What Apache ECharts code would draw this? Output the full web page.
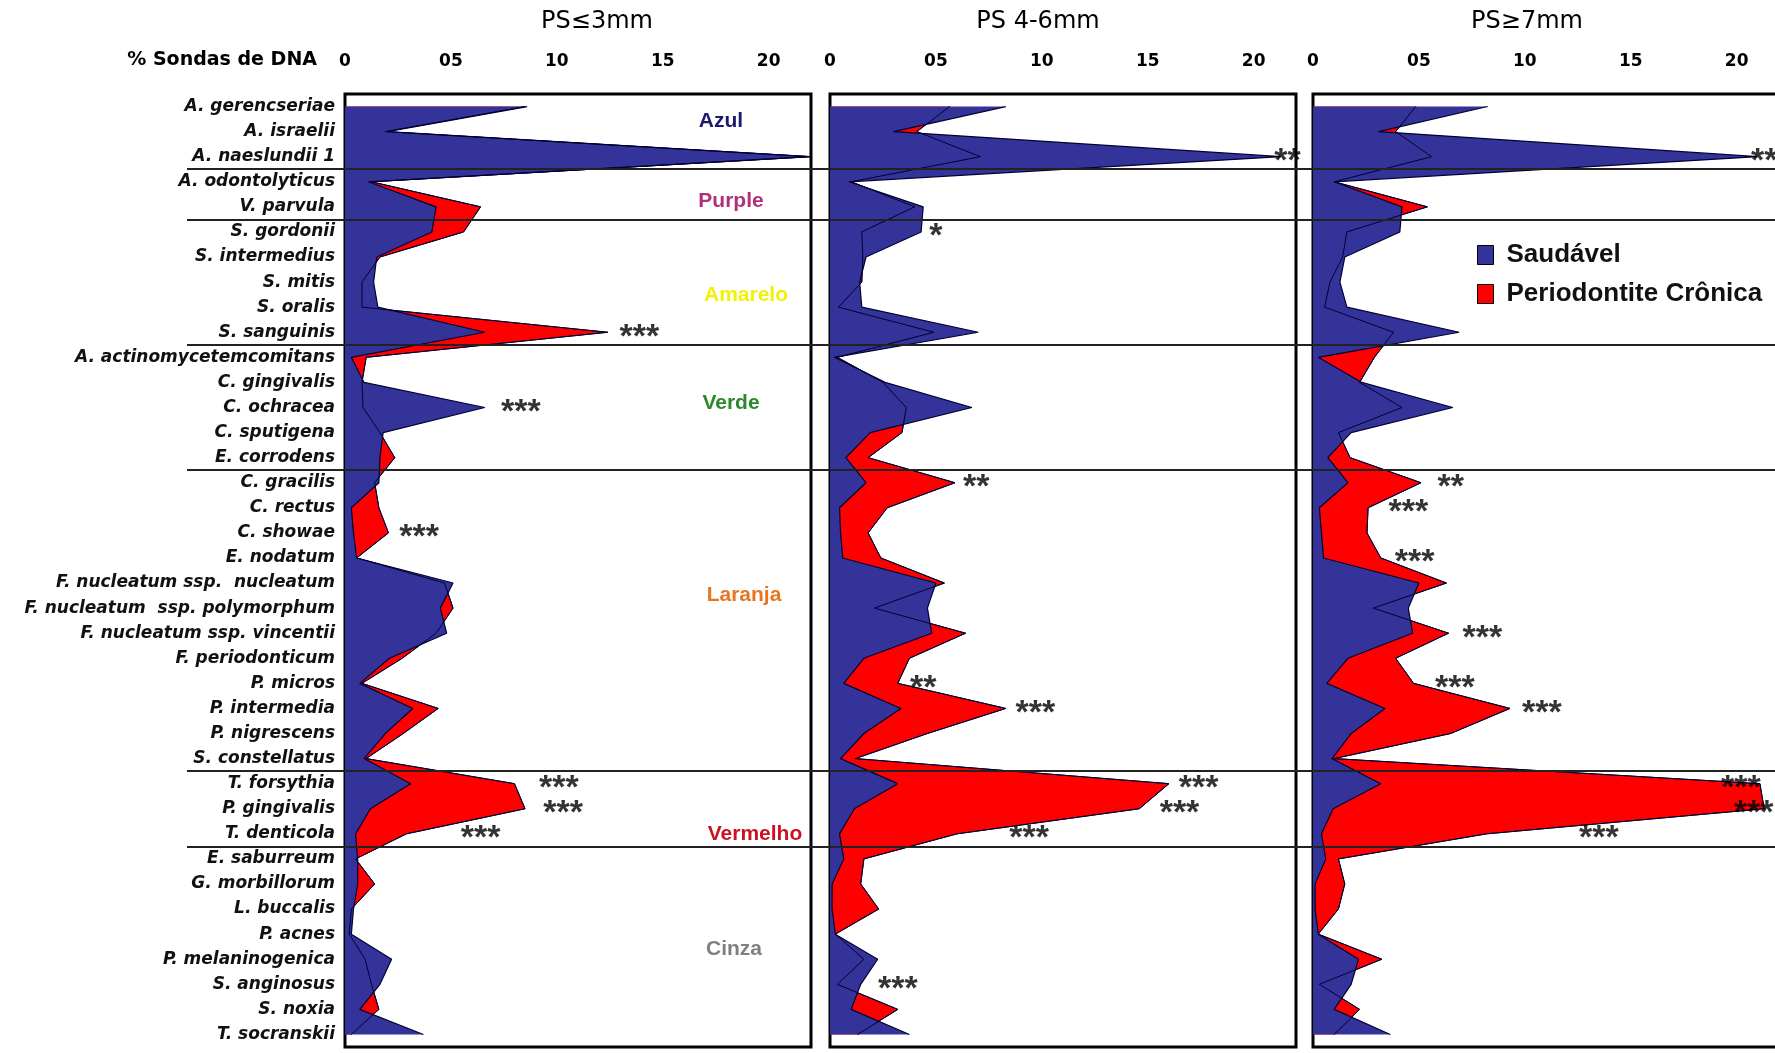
<!DOCTYPE html>
<html><head><meta charset="utf-8">
<script src="https://cdn.jsdelivr.net/npm/echarts@6/dist/echarts.min.js"></script>
<style>html,body{margin:0;padding:0;background:#fff}#c{width:1775px;height:1053px}</style>
</head><body><div id="c"></div>
<script>
// ---------------- data ----------------
const species = [
  'A. gerencseriae','A. israelii','A. naeslundii 1','A. odontolyticus','V. parvula',
  'S. gordonii','S. intermedius','S. mitis','S. oralis','S. sanguinis',
  'A. actinomycetemcomitans','C. gingivalis','C. ochracea','C. sputigena','E. corrodens',
  'C. gracilis','C. rectus','C. showae','E. nodatum','F. nucleatum ssp.  nucleatum',
  'F. nucleatum  ssp. polymorphum','F. nucleatum ssp. vincentii','F. periodonticum','P. micros','P. intermedia',
  'P. nigrescens','S. constellatus','T. forsythia','P. gingivalis','T. denticola',
  'E. saburreum','G. morbillorum','L. buccalis','P. acnes','P. melaninogenica',
  'S. anginosus','S. noxia','T. socranskii'
];
const panelTitles = ['PS≤3mm', 'PS 4-6mm', 'PS≥7mm'];
const axisTitle = '% Sondas de DNA';
const xTickLabels = ['0', '05', '10', '15', '20'];
const seriesNames = ['Saudável', 'Periodontite Crônica'];

const saudavel_PS3 = [8.6,2.0,21.9,1.1,4.3,4.1,1.5,1.35,1.55,6.6,0.3,0.9,6.6,1.8,1.65,1.6,0.3,0.4,0.55,5.1,4.5,4.8,2.1,0.7,3.2,1.9,0.9,3.1,1.2,0.5,0.6,0.6,0.4,0.3,2.2,1.65,0.7,3.7];
const periodontite_PS3 = [8.5,1.9,22.0,1.25,6.4,5.6,1.65,0.8,0.8,12.4,1.0,0.8,0.85,1.65,2.35,1.4,1.6,2.05,0.55,4.7,5.1,4.3,2.7,0.8,4.4,2.75,1.0,8.0,8.5,2.9,0.5,1.4,0.3,0.2,0.95,1.25,1.6,0.3];

const saudavel_PS46 = [8.3,3.0,21.3,0.9,4.4,4.3,1.7,1.4,1.5,7.0,0.2,2.6,6.7,1.9,0.75,1.7,0.45,0.5,0.6,5.0,4.6,4.8,1.6,0.65,3.35,1.6,0.5,3.2,1.15,0.45,0.65,0.1,0.1,0.25,2.25,1.45,1.0,3.75];
const periodontite_PS46 = [5.65,4.1,7.1,1.0,4.0,1.5,1.55,1.5,0.4,4.9,0.35,2.5,3.6,3.4,1.8,5.9,2.7,1.8,2.4,5.4,2.1,6.4,3.75,3.2,8.3,4.6,1.2,16.0,14.6,6.0,1.6,1.45,2.3,0.25,1.6,0.35,3.2,1.3];

const saudavel_PS7 = [8.25,3.1,21.0,1.0,4.2,4.1,1.5,1.27,1.6,6.9,0.25,2.3,6.6,1.8,0.7,1.65,0.3,0.4,0.5,5.0,4.5,4.7,1.65,0.65,3.4,1.8,0.9,3.2,0.95,0.4,0.6,0.1,0.1,0.25,2.15,1.8,1.0,3.65];
const periodontite_PS7 = [4.85,3.9,5.6,1.0,5.4,1.6,1.4,0.8,0.55,3.8,2.9,2.2,4.2,1.2,1.75,5.1,2.6,2.55,3.2,6.3,2.85,6.4,3.9,4.75,9.3,6.5,1.0,21.1,21.3,8.2,1.2,1.5,1.2,0.25,3.25,0.3,2.2,1.0];

const groupNames = ['Azul', 'Purple', 'Amarelo', 'Verde', 'Laranja', 'Vermelho', 'Cinza'];
const groupFirstSpecies = [0, 3, 5, 10, 15, 27, 30];

// [panel, species index, % value, mark]
const significance = [
  [0,9,13.9,'***'],[0,12,8.3,'***'],[0,17,3.5,'***'],[0,27,10.1,'***'],[0,28,10.3,'***'],[0,29,6.4,'***'],
  [1,2,21.6,'**'],[1,5,5.0,'*'],[1,15,6.9,'**'],[1,23,4.4,'**'],[1,24,9.7,'***'],[1,27,17.4,'***'],[1,28,16.5,'***'],[1,29,9.4,'***'],[1,35,3.2,'***'],
  [2,2,21.3,'**'],[2,15,6.5,'**'],[2,16,4.5,'***'],[2,18,4.8,'***'],[2,21,8.0,'***'],[2,23,6.7,'***'],[2,24,10.8,'***'],[2,27,20.2,'***'],[2,28,20.8,'***'],[2,29,13.5,'***']
];

// ---------------- chart ----------------
const healthy = [saudavel_PS3, saudavel_PS46, saudavel_PS7];
const disease = [periodontite_PS3, periodontite_PS46, periodontite_PS7];

const TOP = 94, HEIGHT = 953;
const BAND = HEIGHT / species.length;
const panelLeft = [345, 830, 1313];
const PANEL_W = 466;
const BLUE = '#333399', RED = '#ff0000', EDGE = '#000033';

const grids = [], xAxes = [], yAxes = [], series = [];
for (let p = 0; p < 3; p++) {
  grids.push({ left: panelLeft[p], top: TOP, width: PANEL_W, height: HEIGHT, show: true,
    borderColor: '#000', borderWidth: 3, backgroundColor: '#fff', outerBoundsMode: 'none', containLabel: false });
  xAxes.push({ type: 'value', gridIndex: p, position: 'top', min: 0, max: 22, interval: 5,
    axisLine: { show: false }, axisTick: { show: false }, splitLine: { show: false },
    axisLabel: { margin: 24, color: '#000', fontFamily: 'DejaVu Sans', fontWeight: 'bold', fontSize: 17,
      showMaxLabel: false,
      formatter: v => (v % 5 === 0 && v / 5 < xTickLabels.length) ? xTickLabels[v / 5] : '' } });
  yAxes.push({ type: 'category', gridIndex: p, data: species, inverse: true,
    axisLine: { show: false }, axisTick: { show: false }, splitLine: { show: false },
    axisLabel: p === 0 ? { show: true, interval: 0, margin: 10, color: '#111', fontFamily: 'DejaVu Sans',
      fontStyle: 'italic', fontWeight: 'bold', fontSize: 17 } : { show: false } });

  series.push({ type: 'line', name: seriesNames[1], xAxisIndex: p, yAxisIndex: p, data: disease[p],
    symbol: 'none', z: 2, itemStyle: { color: RED },
    lineStyle: { color: EDGE, width: 1 }, areaStyle: { color: RED, opacity: 1 } });
  series.push({ type: 'line', name: seriesNames[0], xAxisIndex: p, yAxisIndex: p, data: healthy[p],
    symbol: 'none', z: 3, itemStyle: { color: BLUE },
    lineStyle: { color: EDGE, width: 1.2 }, areaStyle: { color: BLUE, opacity: 1 } });
  series.push({ type: 'line', name: seriesNames[1], xAxisIndex: p, yAxisIndex: p, data: disease[p],
    symbol: 'none', z: 4, silent: true, itemStyle: { color: RED },
    lineStyle: { color: EDGE, width: 1 } });
  series.push({ type: 'scatter', xAxisIndex: p, yAxisIndex: p, z: 6, silent: true,
    symbolSize: 1, itemStyle: { color: 'rgba(0,0,0,0)' },
    data: significance.filter(s => s[0] === p).map(s => ({ value: [s[2], s[1]], name: s[3] })),
    label: { show: true, formatter: '{b}', position: 'inside', offset: [0, 5], color: '#000',
      fontFamily: '"Liberation Sans", Arial, sans-serif', fontWeight: 'bold', fontSize: 34 } });
}
// overlay grid for group divider lines across the whole figure
// (one blank extra band so the automatic end boundary falls off the canvas)
const overlayCats = species.concat(['']);
grids.push({ left: 187, top: TOP, width: 1775 - 187, height: BAND * overlayCats.length, show: false, outerBoundsMode: 'none', containLabel: false });
xAxes.push({ type: 'value', gridIndex: 3, show: false, min: 0, max: 1 });
yAxes.push({ type: 'category', gridIndex: 3, data: overlayCats, inverse: true, z: 10,
  axisLine: { show: false }, axisTick: { show: false }, axisLabel: { show: false },
  splitLine: { show: true, interval: (i) => i > 0 && groupFirstSpecies.indexOf(i) >= 0,
    lineStyle: { color: '#222', width: 2 } } });

const groupStyle = [
  { c: '#1a1a6e', x: 721, y: 121 }, { c: '#b0307a', x: 731, y: 201 }, { c: '#f2f200', x: 746, y: 295 },
  { c: '#2a8a2a', x: 731, y: 403 }, { c: '#e8761e', x: 744, y: 595 }, { c: '#cc1122', x: 755, y: 834 },
  { c: '#808080', x: 734, y: 949 }
];
const graphics = [];
groupNames.forEach((g, i) => graphics.push({ type: 'text', x: groupStyle[i].x, y: groupStyle[i].y, z: 20,
  style: { text: g, fill: groupStyle[i].c, font: 'bold 21px "Liberation Sans", Arial, sans-serif', align: 'center', verticalAlign: 'middle' } }));
const titleX = [597, 1038, 1527];
panelTitles.forEach((t, i) => graphics.push({ type: 'text', x: titleX[i], y: 22, z: 20,
  style: { text: t, fill: '#000', font: '24px "DejaVu Sans", sans-serif', align: 'center', verticalAlign: 'middle' } }));
graphics.push({ type: 'text', x: 317, y: 60, z: 20,
  style: { text: axisTitle, fill: '#000', font: 'bold 19px "DejaVu Sans", sans-serif', align: 'right', verticalAlign: 'middle' } });

const chart = echarts.init(document.getElementById('c'), null, { renderer: 'canvas' });
chart.setOption({
  animation: false,
  backgroundColor: '#fff',
  grid: grids, xAxis: xAxes, yAxis: yAxes, series: series,
  legend: { show: true, data: seriesNames, orient: 'vertical', left: 1477, top: 242, icon: 'rect',
    padding: 0, itemWidth: 16, itemHeight: 19, itemGap: 13, selectedMode: false,
    itemStyle: { borderColor: '#000', borderWidth: 1 },
    textStyle: { fontFamily: '"Liberation Sans", Arial, sans-serif', fontWeight: 'bold', fontSize: 26,
      color: '#111', lineHeight: 19, padding: [0, 0, 0, 8] } },
  graphic: graphics
});
</script></body></html>
